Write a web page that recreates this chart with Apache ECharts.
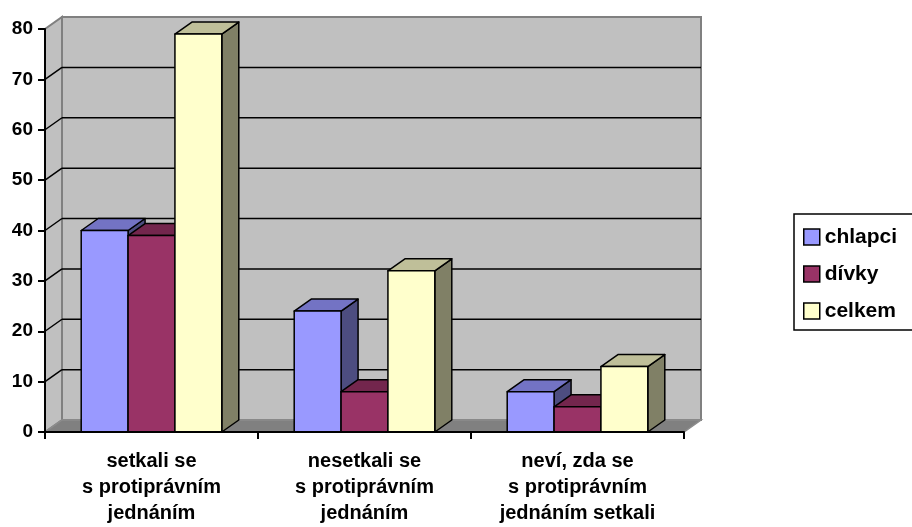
<!DOCTYPE html>
<html><head><meta charset="utf-8">
<script src="https://cdn.jsdelivr.net/npm/echarts/dist/echarts.min.js"></script>
<style>html,body{margin:0;padding:0;background:#fff}#c{width:912px;height:527px}</style>
</head><body><div id="c"></div>
<script>
// ---- data ----
const categories = ['setkali se\ns protiprávním\njednáním', 'nesetkali se\ns protiprávním\njednáním', 'neví, zda se\ns protiprávním\njednáním setkali'];
const seriesNames = ['chlapci', 'dívky', 'celkem'];
const chlapci = [40, 24, 8];
const divky = [39, 8, 5];
const celkem = [79, 32, 13];
const yTicks = [0, 10, 20, 30, 40, 50, 60, 70, 80];

// ---- styling ----
const DX = 17, DY = -12;          // 3D depth offset
const BAR_RATIO = 0.22;           // bar width relative to category
const palettes = [
  { front: '#9999FF', top: '#7373C4', side: '#4D4D80' },
  { front: '#993366', top: '#73264D', side: '#4D1A33' },
  { front: '#FFFFCC', top: '#BFBF99', side: '#808066' }
];
const FONT = "'Liberation Sans', Arial, sans-serif";

function renderWalls(params, api) {
  const cs = params.coordSys;
  const x = cs.x, y = cs.y, w = cs.width, h = cs.height, b = y + h;
  const ch = [];
  ch.push({ type: 'rect', shape: { x: x + DX, y: y + DY, width: w, height: h },
    style: { fill: '#C0C0C0', stroke: '#808080', lineWidth: 2 } });
  ch.push({ type: 'polygon', shape: { points: [[x, b], [x, y], [x + DX, y + DY], [x + DX, b + DY]] },
    style: { fill: '#C0C0C0', stroke: '#808080', lineWidth: 2 } });
  const yMax = yTicks[yTicks.length - 1];
  yTicks.forEach(function (v) {
    if (v === 0 || v === yMax) return;
    const yy = api.coord([0, v])[1];
    ch.push({ type: 'line', shape: { x1: x + DX, y1: yy + DY, x2: x + w + DX, y2: yy + DY },
      style: { stroke: '#000', lineWidth: 1.5 } });
    ch.push({ type: 'line', shape: { x1: x, y1: yy, x2: x + DX, y2: yy + DY },
      style: { stroke: '#000', lineWidth: 1.5 } });
  });
  ch.push({ type: 'polygon', shape: { points: [[x, b], [x + w, b], [x + w + DX, b + DY], [x + DX, b + DY]] },
    style: { fill: '#808080', stroke: '#8c8c8c', lineWidth: 1.5 } });
  return { type: 'group', children: ch };
}

function makeBarRender(s) {
  const p = palettes[s];
  return function (params, api) {
    const ci = api.value(0), v = api.value(1);
    const c = api.coord([ci, v]);
    const base = api.coord([ci, 0]);
    const catW = api.size([1, 0])[0];
    const bw = catW * BAR_RATIO;
    const x0 = c[0] - 1.5 * bw + s * bw, x1 = x0 + bw;
    const yt = c[1], yb = base[1];
    const st = { stroke: '#000', lineWidth: 1.5, lineJoin: 'round' };
    return { type: 'group', children: [
      { type: 'polygon', shape: { points: [[x1, yt], [x1 + DX, yt + DY], [x1 + DX, yb + DY], [x1, yb]] },
        style: Object.assign({ fill: p.side }, st) },
      { type: 'polygon', shape: { points: [[x0, yt], [x1, yt], [x1 + DX, yt + DY], [x0 + DX, yt + DY]] },
        style: Object.assign({ fill: p.top }, st) },
      { type: 'rect', shape: { x: x0, y: yt, width: bw, height: yb - yt },
        style: Object.assign({ fill: p.front }, st) }
    ] };
  };
}

const values = [chlapci, divky, celkem];
const series = [{
  type: 'custom', name: 'walls', z: 1, silent: true,
  renderItem: renderWalls, data: [[0, 0]], encode: { x: 0, y: 1 }
}];
values.forEach(function (arr, s) {
  series.push({
    type: 'custom', name: seriesNames[s], z: 2 + s,
    itemStyle: { color: palettes[s].front },
    renderItem: makeBarRender(s),
    data: arr.map(function (v, i) { return [i, v]; }),
    encode: { x: 0, y: 1 }
  });
});

const chart = echarts.init(document.getElementById('c'), null, { renderer: 'canvas' });
chart.setOption({
  animation: false,
  backgroundColor: '#fff',
  grid: { left: 45, right: 228, top: 29, bottom: 95, containLabel: false, outerBoundsMode: 'none' },
  xAxis: {
    type: 'category', data: categories, boundaryGap: true, z: 10,
    axisLine: { show: true, lineStyle: { color: '#000', width: 2 } },
    axisTick: { show: true, length: 7, lineStyle: { color: '#000', width: 2 } },
    axisLabel: { interval: 0, color: '#000', fontFamily: FONT, fontWeight: 'bold', fontSize: 20, lineHeight: 26, margin: 16 },
    splitLine: { show: false }
  },
  yAxis: {
    type: 'value', min: 0, max: 80, interval: 10, z: 10,
    axisLine: { show: true, lineStyle: { color: '#000', width: 2 } },
    axisTick: { show: true, length: 7, lineStyle: { color: '#000', width: 2 } },
    axisLabel: { color: '#000', fontFamily: FONT, fontWeight: 'bold', fontSize: 19, margin: 12 },
    splitLine: { show: false }
  },
  legend: {
    data: seriesNames, orient: 'vertical', left: 794, top: 214,
    backgroundColor: '#fff', borderColor: '#000', borderWidth: 1.5,
    padding: [12, 30, 8, 9], itemGap: 15, itemWidth: 16, itemHeight: 16,
    icon: 'rect', itemStyle: { borderColor: '#000', borderWidth: 1.5 },
    textStyle: { color: '#000', fontFamily: FONT, fontWeight: 'bold', fontSize: 21, lineHeight: 22 }
  },
  series: series
});
</script></body></html>
